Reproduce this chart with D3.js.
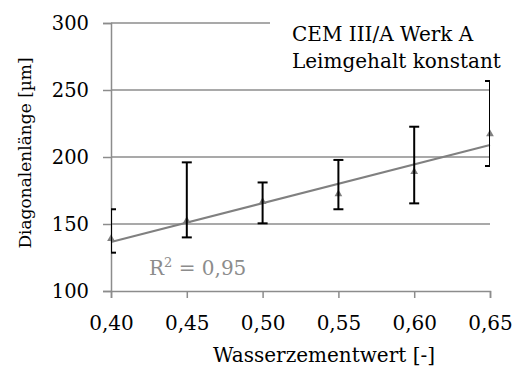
<!DOCTYPE html>
<html>
<head>
<meta charset="utf-8">
<script src="https://cdn.jsdelivr.net/npm/d3@7"></script>
<style>
  html, body { margin: 0; padding: 0; background: #fff; }
  svg { display: block; }
</style>
</head>
<body>
<svg id="chart" width="514" height="369"></svg>
<script>
// Water/cement ratio vs. diagonal length, with min/max ranges
const wz        = [0.40, 0.45, 0.50, 0.55, 0.60, 0.65];
const meanLen   = [139, 152.5, 166.6, 172.4, 189, 217.2];
const upperLen  = [161, 196, 181, 197.8, 222.6, 256.7];
const lowerLen  = [128.6, 140, 150.5, 161, 165.4, 193.3];
const yTicks    = [100, 150, 200, 250, 300];
const xTickText = ["0,40", "0,45", "0,50", "0,55", "0,60", "0,65"];
const noteLines = ["CEM III/A Werk A", "Leimgehalt konstant"];

const FONT = "'DejaVu Serif', 'Liberation Serif', serif";
const svg = d3.select("#chart").style("font-family", FONT);
const plotL = 111, plotR = 490, plotT = 23, plotB = 291;

const x = d3.scaleLinear().domain([0.40, 0.65]).range([plotL, plotR]);
const y = d3.scaleLinear().domain([100, 300]).range([plotB, plotT]);

const grid = "#8c8c8c";

// horizontal gridlines (the top one stops short of the note box)
svg.append("g").selectAll("line").data(yTicks.slice(1)).join("line")
  .attr("x1", plotL).attr("x2", d => d === 300 ? 270 : plotR)
  .attr("y1", d => y(d)).attr("y2", d => y(d))
  .attr("stroke", grid).attr("stroke-width", 1.5);

// y axis
const yAxis = d3.axisLeft(y).tickValues(yTicks).tickSize(8).tickPadding(14)
  .tickFormat(d3.format("d"));
const gy = svg.append("g").attr("transform", `translate(${plotL},0)`).call(yAxis)
  .attr("font-family", null).attr("font-size", null);
gy.select(".domain").attr("stroke", grid).attr("stroke-width", 1.5);
gy.selectAll(".tick line").attr("stroke", grid).attr("stroke-width", 1.5);
gy.selectAll(".tick text").style("font-family", FONT).style("font-size", "19.5px")
  .attr("fill", "#000");

// x axis
const xAxis = d3.axisBottom(x).tickValues(wz).tickSize(7).tickPadding(14)
  .tickFormat((d, i) => xTickText[i]);
const gx = svg.append("g").attr("transform", `translate(0,${plotB})`).call(xAxis)
  .attr("font-family", null).attr("font-size", null);
gx.select(".domain").attr("stroke", grid).attr("stroke-width", 1.5);
gx.selectAll(".tick line").attr("stroke", grid).attr("stroke-width", 1.5);
gx.selectAll(".tick text").style("font-family", FONT).style("font-size", "20px")
  .attr("fill", "#000").attr("dy", null).attr("y", 39);

// axis titles
svg.append("text").attr("x", 324).attr("y", 362).attr("text-anchor", "middle")
  .style("font-size", "20px").text("Wasserzementwert [-]");
svg.append("text").attr("transform", "translate(31,153) rotate(-90)")
  .attr("text-anchor", "middle").style("font-size", "17px").text("Diagonalenlänge [µm]");

// clip region for error bars
svg.append("clipPath").attr("id", "plotClip").append("rect")
  .attr("x", plotL).attr("y", 0).attr("width", plotR - plotL).attr("height", plotB);

// linear trend through the means
const mx = d3.mean(wz), my = d3.mean(meanLen);
const slope = d3.sum(wz, (v, i) => (v - mx) * (meanLen[i] - my)) /
              d3.sum(wz, v => (v - mx) ** 2);
const icpt = my - slope * mx;
svg.append("line")
  .attr("x1", x(0.40)).attr("y1", y(icpt + slope * 0.40))
  .attr("x2", x(0.65)).attr("y2", y(icpt + slope * 0.65))
  .attr("stroke", "#808080").attr("stroke-width", 2);

// markers
const tri = d3.symbol().type(d3.symbolTriangle).size(26);
svg.append("g").selectAll("path").data(wz).join("path")
  .attr("d", tri)
  .attr("transform", (d, i) => `translate(${x(d)},${y(meanLen[i])})`)
  .attr("fill", "#808080");

// error bars
const eb = svg.append("g").attr("clip-path", "url(#plotClip)")
  .attr("stroke", "#000").attr("stroke-width", 2).attr("fill", "none");
wz.forEach((d, i) => {
  const cx = x(d);
  eb.append("line").attr("x1", cx).attr("x2", cx)
    .attr("y1", y(upperLen[i])).attr("y2", y(lowerLen[i]));
  [upperLen[i], lowerLen[i]].forEach(v => {
    eb.append("line").attr("x1", cx - 5).attr("x2", cx + 5)
      .attr("y1", y(v)).attr("y2", y(v));
  });
});

// note box text
svg.append("g").selectAll("text").data(noteLines).join("text")
  .attr("x", 292).attr("y", (d, i) => 41 + i * 27)
  .style("font-size", "20px").text(d => d);

// coefficient of determination
const r2 = svg.append("text").attr("x", 149).attr("y", 275)
  .style("font-size", "20px").attr("fill", "#8c8c8c");
r2.append("tspan").text("R");
r2.append("tspan").attr("dy", -8).style("font-size", "13px").text("2");
r2.append("tspan").attr("dy", 8).text(" = 0,95");
</script>
</body>
</html>
